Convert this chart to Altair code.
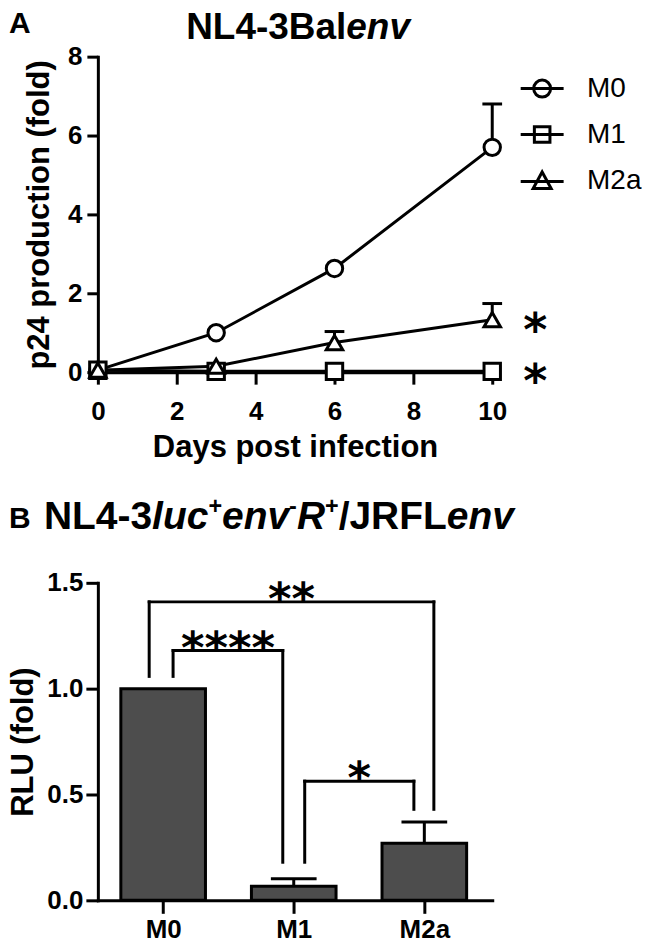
import altair as alt
import pandas as pd

FONT = "Liberation Sans"
STAR_FONT = "DejaVu Sans"

# ---------------- Panel A data ----------------
days = [0, 3, 6, 10]
series = ["M0", "M1", "M2a"]
m0 = [0.05, 1.0, 2.63, 5.7]
m0_err = [0.0, 0.0, 0.0, 1.1]
m1 = [0.05, 0.02, 0.02, 0.02]
m1_err = [0.0, 0.0, 0.0, 0.0]
m2a = [0.05, 0.15, 0.75, 1.33]
m2a_err = [0.0, 0.0, 0.28, 0.41]
p24_ticks = [0, 2, 4, 6, 8]
day_ticks = [0, 2, 4, 6, 8, 10]
a_sig_series = ["M2a", "M1"]
a_sig_labels = ["*", "*"]

# ---------------- Panel B data ----------------
cells = ["M0", "M1", "M2a"]
rlu = [1.0, 0.067, 0.27]
rlu_err = [0.0, 0.035, 0.10]
rlu_ticks = [0.0, 0.5, 1.0, 1.5]
br_labels = ["**", "****", "*"]
br_x1 = [-0.107, 0.076, 1.084]
br_x2 = [2.073, 0.916, 1.92]
br_top = [1.41, 1.18, 0.563]
br_y1 = [1.058, 1.058, 0.18]
br_y2 = [0.43, 0.18, 0.43]

# ---------------- helpers ----------------
# Arial/Liberation Sans Bold advance widths (per 1000 em)
CW = {'N': 722, 'L': 611, '4': 556, '-': 333, '3': 556, 'B': 722, 'a': 556,
      'l': 278, 'e': 556, 'n': 611, 'v': 556, 'u': 611, 'c': 556, '+': 584,
      'R': 722, '/': 278, 'J': 556, 'F': 611, ' ': 278}


def tw(s, fs):
    return sum(CW.get(ch, 556) for ch in s) * fs / 1000.0


def seg_layers(segments, x0, base_y, size, sup_scale=0.6, sup_rise=15):
    layers = []
    x = x0
    for text, kind in segments:
        fs = size * sup_scale if kind == "s" else size
        y = base_y - (sup_rise if kind == "s" else 0)
        layers.append(
            alt.Chart(pd.DataFrame({"t": [text]}))
            .mark_text(font=FONT, fontSize=fs, fontWeight="bold",
                       fontStyle="italic" if kind == "i" else "normal",
                       align="left", baseline="alphabetic", color="black")
            .encode(x=alt.value(x), y=alt.value(y), text="t:N")
        )
        x += tw(text, fs)
    return layers


def letter(txt, x, y, fs=30):
    return (alt.Chart(pd.DataFrame({"t": [txt]}))
            .mark_text(font=FONT, fontSize=fs, fontWeight="bold", align="left",
                       baseline="alphabetic", color="black")
            .encode(x=alt.value(x), y=alt.value(y), text="t:N"))


# ---------------- Panel A ----------------
WA, HA = 395, 316
rows = []
for s, vals, errs in zip(series, [m0, m1, m2a], [m0_err, m1_err, m2a_err]):
    for d, v, e in zip(days, vals, errs):
        rows.append({"series": s, "day": d, "value": v, "err": e})
dfA = pd.DataFrame(rows)

last_val = {s: v[-1] for s, v in zip(series, [m0, m1, m2a])}
sigA = pd.DataFrame({"series": a_sig_series, "label": a_sig_labels,
                     "day": [days[-1]] * len(a_sig_series),
                     "value": [last_val[s] for s in a_sig_series]})

xsA = alt.Scale(domain=[0, 10], nice=False, zero=False)
ysA = alt.Scale(domain=[0, 8], nice=False)
xaxA = alt.Axis(values=day_ticks, title="Days post infection", tickSize=12,
                labelPadding=14, titleY=75, titleBaseline="middle", format="d",
                labelFlush=False)
yaxA = alt.Axis(values=p24_ticks, title="p24 production (fold)", tickSize=11,
                labelPadding=5, titleX=-58, titleBaseline="middle", labelFlush=False)

lineA = alt.Chart(dfA).mark_line(color="black", strokeWidth=3).encode(
    x=alt.X("day:Q", scale=xsA, axis=xaxA),
    y=alt.Y("value:Q", scale=ysA, axis=yaxA),
    detail="series:N")

errA = (alt.Chart(dfA).transform_filter("datum.err > 0")
        .transform_calculate(top="datum.value + datum.err")
        .mark_rule(color="black", strokeWidth=3)
        .encode(x=alt.X("day:Q", scale=xsA), y=alt.Y("value:Q", scale=ysA), y2="top:Q"))

capA = (alt.Chart(dfA).transform_filter("datum.err > 0")
        .transform_calculate(top="datum.value + datum.err",
                             xl="datum.day - 0.25", xr="datum.day + 0.25")
        .mark_rule(color="black", strokeWidth=3)
        .encode(x=alt.X("xl:Q", scale=xsA), x2="xr:Q", y=alt.Y("top:Q", scale=ysA)))

ptsA = alt.Chart(dfA).mark_point(filled=True, fill="white", stroke="black", strokeWidth=3,
                                 opacity=1, fillOpacity=1, size=270).encode(
    x=alt.X("day:Q", scale=xsA),
    y=alt.Y("value:Q", scale=ysA),
    shape=alt.Shape("series:N", scale=alt.Scale(domain=series,
                    range=["circle", "square", "triangle-up"]), legend=None))

legend_paths = [
    "M-2.15,0H2.15M0.85,0A0.85,0.85,0,1,1,-0.85,0A0.85,0.85,0,1,1,0.85,0Z",
    "M-2.15,0H2.15M-0.78,-0.78H0.78V0.78H-0.78Z",
    "M-2.15,0H2.15M0,-0.95L0.9,0.7H-0.9Z",
]
legA = (alt.Chart(dfA).transform_filter("false")
        .mark_point(filled=False, stroke="black", strokeWidth=3, opacity=1, size=400)
        .encode(x=alt.X("day:Q", scale=xsA), y=alt.Y("value:Q", scale=ysA),
                shape=alt.Shape("series:N",
                                scale=alt.Scale(domain=series, range=legend_paths),
                                legend=alt.Legend(title=None, orient="none", legendX=431,
                                                  legendY=18, labelFont=FONT,
                                                  labelFontSize=28, labelFontWeight="normal",
                                                  labelColor="black", labelOffset=31,
                                                  rowPadding=17, symbolSize=400,
                                                  symbolStrokeWidth=3,
                                                  symbolStrokeColor="black",
                                                  symbolFillColor="transparent",
                                                  padding=0))))

starA = alt.Chart(sigA).mark_text(font=STAR_FONT, fontWeight="bold", fontSize=46, dx=43, dy=12,
                                  baseline="middle", align="center", color="black").encode(
    x=alt.X("day:Q", scale=xsA), y=alt.Y("value:Q", scale=ysA), text="label:N")

titleA_segments = [("NL4-3Bal", "n"), ("env", "i")]
tA_size = 37
tA_width = sum(tw(t, tA_size) for t, _ in titleA_segments)
titleA = seg_layers(titleA_segments, WA / 2 - tA_width / 2 + 3, -18, tA_size)

top = alt.layer(lineA, errA, capA, ptsA, legA, starA, letter("A", -89, -24),
                *titleA).resolve_scale(shape="independent").properties(width=WA, height=HA)

# ---------------- Panel B ----------------
WB, HB = 395, 318
dfB = pd.DataFrame({"cell": cells, "pos": list(range(len(cells))), "val": rlu, "err": rlu_err})
dfBr = pd.DataFrame({"label": br_labels, "x1": br_x1, "x2": br_x2, "top": br_top,
                     "y1": br_y1, "y2": br_y2})

xsB = alt.Scale(domain=[-0.5, 2.52], nice=False, zero=False)
ysB = alt.Scale(domain=[0, 1.5], nice=False)
label_expr = "[" + ",".join("'%s'" % c for c in cells) + "][datum.value]"
xaxB = alt.Axis(values=list(range(len(cells))), labelExpr=label_expr, title=None,
                tickSize=13, labelPadding=3, labelFlush=False)
yaxB = alt.Axis(values=rlu_ticks, format=".1f", title="RLU (fold)", tickSize=12,
                labelPadding=3, titleX=-74, titleBaseline="middle", labelFlush=False)

bars = (alt.Chart(dfB)
        .transform_calculate(xl="datum.pos - 0.324", xr="datum.pos + 0.324")
        .mark_bar(fill="#4d4d4d", stroke="black", strokeWidth=3)
        .encode(x=alt.X("xl:Q", scale=xsB, axis=xaxB), x2="xr:Q",
                y=alt.Y("val:Q", scale=ysB, axis=yaxB), y2=alt.datum(0)))

errB = (alt.Chart(dfB).transform_filter("datum.err > 0")
        .transform_calculate(top="datum.val + datum.err")
        .mark_rule(color="black", strokeWidth=3)
        .encode(x=alt.X("pos:Q", scale=xsB), y=alt.Y("val:Q", scale=ysB), y2="top:Q"))

capB = (alt.Chart(dfB).transform_filter("datum.err > 0")
        .transform_calculate(top="datum.val + datum.err",
                             xl="datum.pos - 0.175", xr="datum.pos + 0.175")
        .mark_rule(color="black", strokeWidth=3)
        .encode(x=alt.X("xl:Q", scale=xsB), x2="xr:Q", y=alt.Y("top:Q", scale=ysB)))

brH = alt.Chart(dfBr).mark_rule(color="black", strokeWidth=3, strokeCap="square").encode(
    x=alt.X("x1:Q", scale=xsB), x2="x2:Q", y=alt.Y("top:Q", scale=ysB))
brL = alt.Chart(dfBr).mark_rule(color="black", strokeWidth=3, strokeCap="square").encode(
    x=alt.X("x1:Q", scale=xsB), y=alt.Y("y1:Q", scale=ysB), y2="top:Q")
brR = alt.Chart(dfBr).mark_rule(color="black", strokeWidth=3, strokeCap="square").encode(
    x=alt.X("x2:Q", scale=xsB), y=alt.Y("y2:Q", scale=ysB), y2="top:Q")
brT = (alt.Chart(dfBr).transform_calculate(xm="(datum.x1 + datum.x2) / 2")
       .mark_text(font=STAR_FONT, fontWeight="bold", fontSize=45, dy=-2,
                  baseline="middle", align="center", color="black")
       .encode(x=alt.X("xm:Q", scale=xsB), y=alt.Y("top:Q", scale=ysB), text="label:N"))

titleB_segments = [("NL4-3", "n"), ("luc", "i"), ("+", "s"), ("env", "i"), ("-", "s"),
                   ("R", "i"), ("+", "s"), ("/JRFL", "n"), ("env", "i")]
titleB = seg_layers(titleB_segments, -54, -54, 39)

bottom = alt.layer(bars, errB, capB, brH, brL, brR, brT, letter("B", -89, -55),
                   *titleB).properties(width=WB, height=HB)

chart = (alt.vconcat(top, bottom, spacing=33)
         .properties(padding={"left": 0, "top": 0, "right": 0, "bottom": -5})
         .configure_axis(domainColor="black", domainWidth=3, tickColor="black", tickWidth=3,
                         labelColor="black", titleColor="black", labelFont=FONT,
                         labelFontSize=26, labelFontWeight="bold", titleFont=FONT,
                         titleFontSize=31, titleFontWeight="bold", grid=False,
                         domainCap="square")
         .configure_view(stroke=None))

chart.save("out.html", embed_options={"renderer": "svg", "actions": False})
